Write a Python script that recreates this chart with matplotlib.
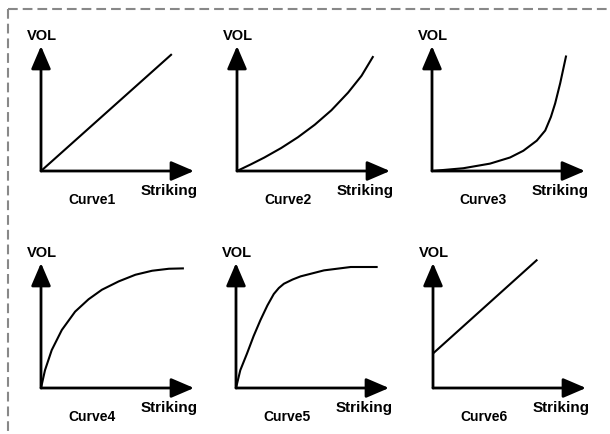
import matplotlib
matplotlib.use('Agg')
import matplotlib.pyplot as plt
from matplotlib.lines import Line2D

plt.rcParams['font.family'] = ['Liberation Sans', 'DejaVu Sans']
plt.rcParams['lines.scale_dashes'] = False

W, H = 610, 435

# curve shapes, as fractions of the axis arrow lengths
labels = ['Curve1', 'Curve2', 'Curve3', 'Curve4', 'Curve5', 'Curve6']
curve_x = [
    [0, 0.855],
    [0, 0.092, 0.179, 0.289, 0.398, 0.508, 0.617, 0.726, 0.814, 0.891],
    [0, 0.204, 0.379, 0.510, 0.597, 0.685, 0.740, 0.777, 0.805, 0.838, 0.877],
    [0, 0.026, 0.070, 0.136, 0.223, 0.311, 0.398, 0.508, 0.617, 0.726, 0.836, 0.934],
    [0, 0.028, 0.072, 0.115, 0.160, 0.205, 0.247, 0.280, 0.313, 0.370, 0.422, 0.575, 0.750, 0.926],
    [0, 0.682],
]
curve_y = [
    [0, 0.935],
    [0, 0.054, 0.108, 0.184, 0.270, 0.370, 0.486, 0.627, 0.762, 0.919],
    [0, 0.022, 0.059, 0.108, 0.162, 0.243, 0.324, 0.432, 0.541, 0.703, 0.924],
    [0, 0.142, 0.303, 0.464, 0.611, 0.710, 0.786, 0.853, 0.906, 0.938, 0.954, 0.957],
    [0, 0.142, 0.276, 0.415, 0.544, 0.660, 0.752, 0.800, 0.834, 0.868, 0.893, 0.941, 0.968, 0.968],
    [0.276, 1.027],
]

# panel origins in pixels (x from left, y from top)
origins = [(41, 172), (237, 172), (432, 172), (41, 389), (236, 389), (433, 389)]
xlen, ylen = 153, 125

fig = plt.figure(figsize=(6.1, 4.35), dpi=100)

# dashed frame (top and left only)
fig.add_artist(Line2D([8 / W, 1.0], [1 - 10 / H, 1 - 10 / H], transform=fig.transFigure,
                      color='#888888', lw=1.5, dashes=(7, 3.6)))
fig.add_artist(Line2D([8 / W, 8 / W], [1 - 10 / H, 0.0], transform=fig.transFigure,
                      color='#888888', lw=1.5, dashes=(7, 3.6)))

for i in range(6):
    ox, oy = origins[i]
    ax = fig.add_axes([ox / W, 1 - oy / H, xlen / W, ylen / H])
    ax.set_xlim(0, 1)
    ax.set_ylim(0, 1)
    ax.axis('off')

    arrow = dict(arrowstyle='-|>,head_length=0.7,head_width=0.3', color='black',
                 lw=2.0, mutation_scale=20, shrinkA=0, shrinkB=0)
    ax.annotate('', xy=(1, 0), xytext=(0, 0), arrowprops=arrow, annotation_clip=False)
    ax.annotate('', xy=(0, 1), xytext=(0, 0), arrowprops=arrow, annotation_clip=False)

    ax.plot(curve_x[i], curve_y[i], color='black', lw=1.5, clip_on=False,
            solid_capstyle='butt', solid_joinstyle='round')

    ax.text((ox + 1) / W, 1 - (oy - 136) / H, 'VOL', transform=fig.transFigure,
            ha='center', va='center', fontsize=10.5, fontweight='bold')
    ax.text((ox + 128) / W, 1 - (oy + 19) / H, 'Striking', transform=fig.transFigure,
            ha='center', va='center', fontsize=11, fontweight='bold')
    ax.text((ox + 51) / W, 1 - (oy + 28) / H, labels[i], transform=fig.transFigure,
            ha='center', va='center', fontsize=10, fontweight='bold')

fig.savefig('out.png', dpi=100)
